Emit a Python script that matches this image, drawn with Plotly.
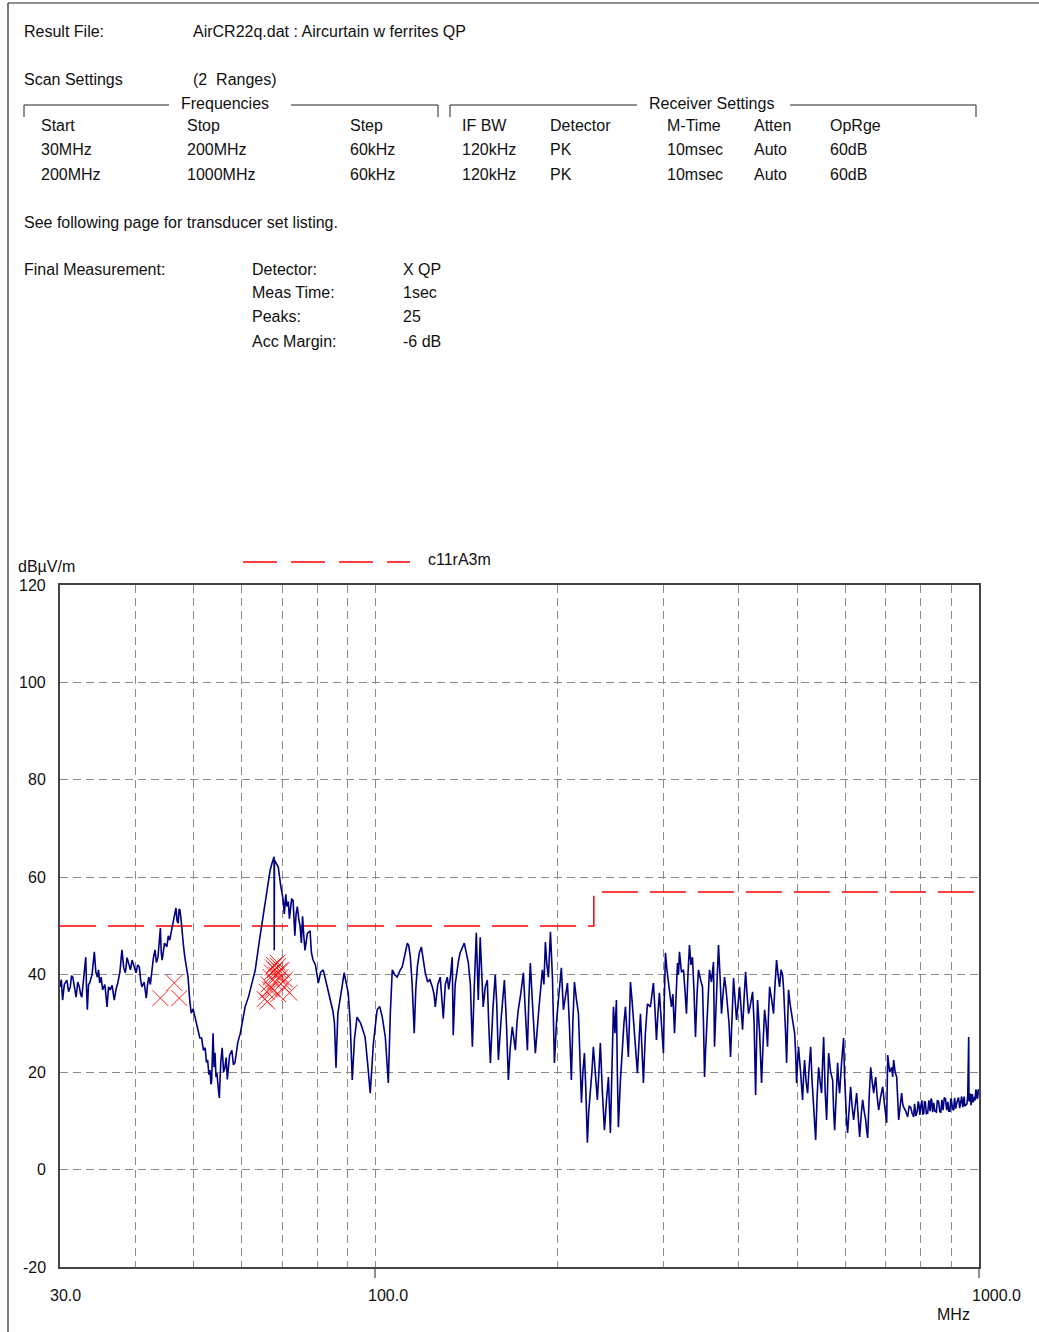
import plotly.graph_objects as go
import math

# ---------------- data ----------------
# scan trace, 30 - 63 MHz
freq_a = [30.0, 30.15, 30.3, 30.5, 30.8, 31.0, 31.2, 31.35, 31.5, 31.7, 31.9, 32.1, 32.3, 32.45, 32.6,
          32.85, 33.1, 33.2, 33.3, 33.45, 33.6, 33.9, 34.2, 34.4, 34.6, 34.75, 34.9, 35.1, 35.3, 35.6,
          35.9, 36.1, 36.3, 36.6, 36.9, 37.15, 37.4, 37.7, 38.0, 38.25, 38.5, 38.75, 39.0, 39.25, 39.5,
          39.8, 40.1, 40.35, 40.6, 40.8, 41.0, 41.35, 41.7, 41.9, 42.1, 42.35, 42.6, 42.85, 43.1, 43.35,
          43.6, 43.8, 44.0, 44.15, 44.3, 44.7, 45.1, 45.35, 45.6, 45.9, 46.2, 46.45, 46.7, 46.9, 47.1,
          47.25, 47.4, 47.6, 47.8, 48.05, 48.3, 48.6, 48.9, 49.2, 49.5, 49.85, 50.2, 50.5, 50.8, 51.15,
          51.5, 51.85, 52.2, 52.45, 52.7, 52.95, 53.2, 53.35, 53.5, 53.65, 53.8, 54.0, 54.2, 54.4, 54.6,
          54.85, 55.1, 55.4, 55.7, 56.0, 56.3, 56.55, 56.8, 57.3, 57.8, 58.15, 58.5, 59.1, 59.7, 60.2,
          60.8, 61.6, 62.4, 63.2]
level_a = [37.5, 39.0, 34.8, 38.0, 38.9, 36.5, 37.5, 39.8, 39.5, 37.0, 35.4, 38.5, 37.5, 36.0, 35.4,
           39.5, 43.6, 37.0, 32.8, 38.0, 38.3, 40.0, 44.7, 40.5, 39.5, 41.0, 38.3, 39.5, 36.9, 38.0,
           33.4, 37.5, 36.9, 37.8, 34.8, 37.0, 38.3, 40.5, 45.1, 41.5, 40.4, 43.5, 42.4, 41.0, 43.0,
           41.5, 40.4, 42.0, 41.6, 39.0, 37.5, 38.5, 35.2, 38.0, 39.5, 38.0, 41.0, 43.5, 45.1, 42.5,
           43.6, 46.0, 49.6, 44.5, 43.0, 46.5, 45.7, 48.0, 47.1, 49.0, 50.6, 52.0, 53.7, 51.0, 50.6,
           53.5, 53.3, 51.5, 48.6, 46.0, 43.6, 41.0, 39.5, 35.0, 32.1, 33.0, 31.3, 29.5, 28.7, 27.0,
           27.0, 24.5, 25.0, 22.0, 22.5, 19.5, 20.4, 17.5, 18.0, 27.0, 28.0, 21.0, 24.0, 19.0, 19.8,
           17.0, 14.7, 22.0, 25.0, 20.0, 21.0, 23.0, 18.5, 23.5, 24.5, 21.5, 22.0, 26.0, 28.0, 30.5,
           33.4, 35.5, 38.3, 41.0]

# scan trace, 64 - 133 MHz
freq_b = [64.2, 65.1, 66.0, 66.9, 67.4, 67.9, 67.95, 68.0, 68.5, 69.0, 69.6, 70.3, 70.6, 71.0, 71.3,
          71.7, 72.0, 72.3, 72.6, 73.0, 73.25, 73.5, 73.85, 74.2, 74.6, 75.0, 75.35, 75.7, 76.05, 76.4,
          77.1, 77.9, 78.3, 78.8, 79.5, 80.4, 81.1, 81.9, 82.8, 84.1, 85.0, 85.5, 86.0, 86.6, 87.4,
          88.0, 88.7, 89.4, 90.1, 90.8, 91.5, 92.3, 93.2, 94.5, 95.3, 96.1, 97.0, 98.0, 99.2, 100.6,
          101.6, 102.6, 103.8, 104.4, 105.0, 105.8, 106.6, 107.6, 108.6, 109.7, 110.7, 111.8, 112.9,
          113.5, 114.2, 115.0, 115.9, 116.6, 117.3, 118.2, 119.1, 120.0, 120.9, 122.0, 123.0, 124.2,
          125.0, 125.6, 126.8, 128.0, 128.7, 129.5, 130.5, 131.5, 132.2, 133.0]
level_b = [47.0, 51.9, 56.5, 61.5, 63.0, 64.2, 45.0, 63.5, 62.8, 62.1, 58.5, 55.3, 52.5, 56.5, 54.0,
           55.0, 51.5, 53.0, 55.5, 55.3, 51.0, 48.0, 52.5, 54.0, 51.5, 49.8, 46.5, 52.0, 48.0, 45.0,
           48.5, 49.0, 44.5, 43.0, 42.0, 38.3, 40.5, 41.0, 38.5, 34.8, 32.5, 30.0, 20.9, 32.0, 34.8,
           37.5, 40.4, 38.0, 36.3, 30.0, 18.4, 27.0, 31.3, 30.0, 28.5, 27.2, 22.0, 15.7, 26.0, 32.8,
           33.5, 31.3, 27.2, 22.0, 17.8, 32.0, 41.0, 40.0, 39.5, 40.8, 41.6, 44.0, 46.5,
           46.0, 43.6, 38.0, 28.0, 37.0, 41.6, 44.5, 45.7, 43.0, 40.4, 38.5, 39.0, 37.5,
           36.0, 33.4, 38.0, 39.5, 36.0, 31.0, 38.0, 39.5, 37.0, 39.3]

# scan trace, 134 - 300 MHz
freq_c = [134.0, 134.5, 135.5, 136.6, 137.3, 138.1, 139.2, 140.3, 141.4, 142.5, 143.6, 144.7, 145.8,
          146.9, 148.0, 149.1, 150.0, 150.8, 152.0, 153.2, 154.0, 155.0, 156.5, 157.9, 158.8, 159.8,
          161.5, 163.5, 164.8, 166.0, 167.2, 168.5, 169.5, 170.5, 171.5, 172.4, 174.0, 175.8, 177.0,
          178.5, 179.5, 180.5, 182.2, 184.0, 186.5, 189.0, 190.1, 191.2, 192.3, 193.4, 194.9, 195.6,
          196.4, 197.9, 199.4, 200.9, 202.0, 203.2, 204.8, 206.5, 208.0, 209.5, 211.1, 212.3, 213.6,
          215.2, 216.9, 218.0, 219.4, 220.6, 221.9, 223.0, 224.4, 225.6, 227.0, 228.3, 229.6, 231.3,
          233.1, 234.5, 235.8, 237.6, 239.5, 241.3, 243.2, 244.1, 245.0, 246.4, 247.9, 249.3, 250.7,
          251.6, 252.6, 254.5, 256.5, 258.0, 259.5, 261.0, 262.4, 263.4, 264.5, 266.0, 267.5, 269.5,
          271.6, 273.2, 274.8, 276.3, 277.9, 280.0, 282.2, 285.4, 287.0, 288.7, 290.4, 292.1, 293.7,
          295.4, 297.7, 300.0]
level_c = [43.6, 27.6, 38.0, 41.6, 43.0, 44.5, 45.5, 46.5, 44.5, 42.4, 38.0, 25.2, 38.0,
           48.6, 34.8, 47.7, 40.0, 33.4, 37.5, 38.9, 30.0, 21.9, 33.0, 40.0, 34.0, 22.5,
           31.0, 38.9, 30.0, 18.4, 25.0, 29.3, 27.0, 24.5, 30.0, 32.8, 36.0, 40.4, 33.0,
           24.5, 35.0, 42.4, 33.0, 23.9, 33.0, 41.0, 38.0, 46.7, 42.0, 39.5, 48.8, 45.0,
           39.5, 21.9, 30.0, 34.8, 38.0, 41.4, 32.8, 36.0, 38.3, 30.0, 18.4, 30.0, 38.5,
           35.0, 32.0, 24.0, 13.7, 20.0, 23.9, 17.0, 5.5, 12.0, 15.7, 20.0, 25.2, 20.0,
           14.3, 20.0, 26.0, 16.0, 8.1, 14.0, 19.0, 13.0, 7.5, 20.0, 33.4, 28.0, 34.8,
           20.0, 8.7, 18.0, 26.6, 30.0, 33.4, 28.0, 23.1, 30.0, 38.5, 35.0, 31.3, 25.0,
           19.8, 26.0, 32.0, 25.0, 17.8, 28.0, 34.0, 33.4, 36.0, 38.3, 33.0, 26.6, 32.0,
           36.3, 30.0, 23.9]

# scan trace, 301 - 780 MHz
freq_d = [301.0, 302.3, 304.0, 305.8, 307.5, 309.3, 311.0, 312.9, 314.7, 316.5, 317.7, 318.9, 321.3,
          323.8, 325.6, 327.5, 329.4, 331.3, 333.2, 335.1, 337.0, 339.0, 341.0, 342.9, 345.5, 348.2,
          349.5, 350.9, 352.2, 353.6, 355.6, 357.6, 360.3, 363.1, 364.5, 367.3, 370.1, 372.2, 374.4,
          376.5, 378.7, 380.9, 383.1, 385.3, 387.5, 389.7, 392.0, 394.2, 396.5, 398.8, 401.1, 403.4,
          405.7, 408.0, 410.4, 412.7, 415.1, 418.3, 421.5, 424.0, 426.4, 428.0, 429.6, 433.0, 436.2,
          438.8, 441.3, 443.8, 446.3, 448.0, 449.8, 453.2, 456.6, 459.2, 461.9, 464.5, 467.2, 469.9,
          472.6, 474.5, 476.3, 478.1, 479.9, 481.7, 483.5, 486.3, 489.1, 492.0, 494.8, 496.7, 498.6,
          500.5, 502.3, 506.2, 510.1, 512.0, 514.0, 517.0, 520.0, 523.0, 526.0, 529.0, 532.1, 534.1,
          536.2, 539.2, 542.3, 545.4, 548.5, 550.6, 552.8, 556.0, 559.1, 561.2, 563.4, 567.7, 572.1,
          574.3, 576.5, 579.8, 583.1, 585.3, 587.5, 592.0, 596.5, 598.8, 601.1, 603.4, 605.7, 609.2,
          612.7, 616.2, 619.8, 623.4, 627.0, 630.6, 634.2, 637.8, 641.5, 645.2, 648.9, 651.4, 653.9,
          657.7, 661.5, 665.3, 669.1, 671.6, 674.2, 678.0, 682.0, 687.2, 692.5, 697.8, 703.1, 705.8,
          711.2, 716.6, 719.3, 722.1, 726.2, 730.4, 733.2, 736.0, 740.2, 744.5, 747.3, 750.2, 756.0,
          761.7, 766.0, 770.5, 775.0, 779.4]
level_d = [35.0, 44.5, 41.0, 38.9, 36.0, 33.4, 36.0, 28.0, 36.0, 42.4, 40.0, 44.7, 40.5,
           41.0, 37.0, 32.0, 40.0, 46.1, 42.0, 43.6, 37.0, 27.2, 36.0, 41.0, 39.0, 37.5,
           30.0, 19.0, 24.0, 29.3, 36.0, 41.0, 38.5, 42.6, 25.2, 38.0, 46.1, 40.0, 32.0,
           36.0, 39.5, 37.0, 34.0, 30.0, 23.1, 33.0, 39.3, 35.0, 30.7, 34.0, 37.5, 33.0,
           28.7, 35.0, 40.6, 36.0, 32.0, 34.0, 36.5, 30.0, 15.3, 26.0, 34.8, 28.0, 17.8,
           26.0, 32.8, 30.0, 25.2, 32.0, 37.5, 35.0, 32.0, 38.0, 43.0, 40.0, 37.5, 41.0,
           40.0, 37.0, 33.4, 28.0, 21.9, 30.0, 36.9, 34.0, 32.0, 30.0, 28.0, 24.0, 17.8,
           22.0, 25.2, 20.0, 14.3, 19.0, 22.5, 18.0, 15.7, 21.0, 25.2, 18.0, 12.8, 10.0,
           6.1, 15.0, 21.0, 18.0, 15.7, 22.0, 27.2, 16.0, 10.2, 17.0, 23.9, 20.0, 18.4,
           12.0, 8.1, 15.0, 21.9, 18.0, 15.7, 22.0, 27.0, 19.0, 12.8, 10.0, 7.5, 13.0,
           17.0, 13.0, 10.2, 13.0, 15.7, 11.0, 6.7, 11.0, 14.3, 12.0, 10.2, 8.0, 6.5,
           15.0, 21.0, 18.0, 15.7, 17.5, 19.0, 15.0, 12.2, 15.0, 17.0, 13.0, 9.6, 23.5,
           20.0, 21.0, 19.0, 22.5, 20.0, 19.0, 15.0, 10.2, 13.0, 15.7, 13.5, 12.8, 12.0,
           10.8, 13.0, 12.8, 11.5, 10.8]

# scan trace, 782 - 1000 MHz (flat noise floor)
freq_e = [782.0, 786.0, 790.0, 793.0, 795.0, 798.0, 800.5, 804.0, 807.0, 810.0, 812.0, 815.0, 818.0,
          822.2, 826.0, 830.0, 833.0, 835.0, 838.0, 841.3, 845.0, 850.0, 853.0, 857.0, 861.0, 864.5,
          868.0, 872.0, 876.0, 880.0, 884.0, 887.9, 891.0, 895.0, 898.0, 900.0, 904.0, 907.8, 911.0,
          915.0, 920.0, 925.0, 929.0, 932.5, 936.0, 940.0, 945.0, 947.0, 950.4, 955.0, 958.0, 961.4,
          962.5, 965.0, 968.0, 970.0, 975.0, 978.0, 980.0, 985.0, 988.0, 990.0, 993.0, 995.0, 998.0,
          1000.0]
level_e = [13.5, 11.0, 12.0, 14.0, 13.5, 11.2, 12.8, 14.2, 11.4, 11.5, 14.0, 13.8, 11.5,
           11.6, 14.2, 12.0, 14.6, 14.2, 11.8, 13.7, 12.0, 11.8, 14.2, 14.0, 11.9, 11.8,
           14.3, 12.2, 14.8, 14.5, 12.2, 13.9, 12.0, 12.0, 14.6, 14.3, 12.4, 12.2, 14.7,
           12.5, 14.0, 14.8, 12.6, 13.9, 15.0, 12.8, 15.0, 13.0, 13.3, 13.5, 15.2, 27.2,
           14.0, 14.3, 15.6, 13.2, 15.5, 13.8, 14.9, 14.2, 16.4, 16.2, 14.5, 14.8, 16.5,
           15.9]

scan_freq = freq_a + freq_b + freq_c + freq_d + freq_e
scan_level = level_a + level_b + level_c + level_d + level_e

# limit line c11rA3m
limit_freq = [30, 230, 230, 1000]
limit_level = [50, 50, 57, 57]

# final QP measurements (25 peaks)
qp_freq = [44.0, 46.4, 47.3,
           65.5, 66.0, 66.2, 66.5, 66.8, 67.0, 67.3, 67.4, 67.6, 67.9, 68.0, 68.2,
           68.5, 68.8, 69.0, 69.0, 69.3, 69.6, 69.9, 70.2, 70.5, 70.8, 72.0]
qp_level = [35.2, 38.3, 35.2,
            35.0, 36.5, 34.5, 38.0, 37.0, 39.5, 40.5, 37.0, 41.5, 42.0, 38.5, 41.0,
            40.0, 42.5, 41.8, 36.0, 40.8, 39.5, 41.0, 38.5, 37.5, 39.0, 36.3]

grid_freqs = [40, 50, 60, 70, 80, 90, 100, 200, 300, 400, 500, 600, 700, 800, 900]
y_ticks = [120, 100, 80, 60, 40, 20, 0, -20]

# ---------------- layout helpers (pixel -> paper) ----------------
W, H = 1039, 1332
L, R, T, B = 60, 979, 585, 1267


def px(x):
    return (x - L) / (R - L)


def py(y):
    return (B - y) / (B - T)


FONT = "Liberation Sans, Arial, sans-serif"
TXT = "#111111"
fig = go.Figure()

fig.add_trace(go.Scatter(x=limit_freq, y=limit_level, mode="lines",
                         line=dict(color="#ff0000", width=1.5, dash="36px,12px"),
                         hoverinfo="skip"))
fig.add_trace(go.Scatter(x=scan_freq, y=scan_level, mode="lines",
                         line=dict(color="#000080", width=1.6)))
fig.add_trace(go.Scatter(x=qp_freq, y=qp_level, mode="markers",
                         marker=dict(symbol="x-thin", size=16, color="rgba(255,0,0,0.85)",
                                     line=dict(color="rgba(255,0,0,0.85)", width=1))))

ann = []
DX = -2  # annotation inner padding compensation


def text(x, y, s, anchor="left", size=16):
    shift = DX if anchor == "left" else (-DX if anchor == "right" else 0)
    ann.append(dict(x=px(x + shift), y=py(y), xref="paper", yref="paper", text=s, showarrow=False,
                    xanchor=anchor, yanchor="middle",
                    font=dict(size=size, family=FONT, color=TXT)))


text(24, 31, "Result File:")
text(193, 31, "AirCR22q.dat : Aircurtain w ferrites QP")
text(24, 79, "Scan Settings")
text(193, 79, "(2  Ranges)")
text(181, 103, "Frequencies")
text(649, 103, "Receiver Settings")

cols = [41, 187, 350, 462, 550, 667, 754, 830]
rows = [
    ["Start", "Stop", "Step", "IF BW", "Detector", "M-Time", "Atten", "OpRge"],
    ["30MHz", "200MHz", "60kHz", "120kHz", "PK", "10msec", "Auto", "60dB"],
    ["200MHz", "1000MHz", "60kHz", "120kHz", "PK", "10msec", "Auto", "60dB"],
]
for ri, row in enumerate(rows):
    for ci, s in enumerate(row):
        text(cols[ci], 126 + 24 * ri, s)

text(24, 222, "See following page for transducer set listing.")
text(24, 269, "Final Measurement:")
fm = [("Detector:", "X QP"), ("Meas Time:", "1sec"), ("Peaks:", "25"), ("Acc Margin:", "-6 dB")]
for i, (a, b) in enumerate(fm):
    text(252, 269 + 24 * i, a)
    text(403, 269 + 24 * i, b)

text(18, 566, "dBµV/m")
text(428, 559, "c11rA3m")
text(937, 1314, "MHz")

for v in y_ticks:
    text(46, B - (v + 20) * (B - T) / 140, str(v), anchor="right")

text(50, 1295, "30.0")
text(368, 1295, "100.0")
text(972, 1295, "1000.0")

shapes = []


def seg(x0, y0, x1, y1, color="#222", width=1, dash="solid"):
    shapes.append(dict(type="line", xref="paper", yref="paper", x0=px(x0), y0=py(y0),
                       x1=px(x1), y1=py(y1), line=dict(color=color, width=width, dash=dash)))


# page border
seg(8, 3, 8, 1332, width=1.2)
seg(8, 3, 1039, 3, width=1.2)
# brackets
seg(24, 105, 169, 105)
seg(291, 105, 438, 105)
seg(24, 105, 24, 117)
seg(438, 105, 438, 117)
seg(450, 105, 637, 105)
seg(790, 105, 976, 105)
seg(450, 105, 450, 117)
seg(976, 105, 976, 117)
# legend sample
seg(243, 562, 410, 562, color="#ff0000", width=1.5, dash="34px,14px")
# major ticks below axis
seg(375, 1267, 375, 1278, color="#444", width=1.2)
seg(979, 1267, 979, 1278, color="#444", width=1.2)

axis_common = dict(showgrid=True, gridcolor="#8a8a8a", gridwidth=1, griddash="8px,5px",
                   showline=True, mirror=True, linecolor="#444", linewidth=1.5,
                   showticklabels=False, ticks="", zeroline=False)

fig.update_layout(
    width=W, height=H,
    margin=dict(l=L, r=W - R, t=T, b=H - B, pad=0),
    paper_bgcolor="white", plot_bgcolor="white",
    showlegend=False,
    font=dict(family=FONT, size=16, color=TXT),
    xaxis=dict(type="log", range=[math.log10(30), 3], tickvals=grid_freqs, **axis_common),
    yaxis=dict(range=[-20, 120], tick0=-20, dtick=20, **axis_common),
    annotations=ann,
    shapes=shapes,
)

fig.write_html("out.html", config={"displayModeBar": False},
               post_script="document.body.style.margin='0px';document.body.style.overflow='hidden';")
